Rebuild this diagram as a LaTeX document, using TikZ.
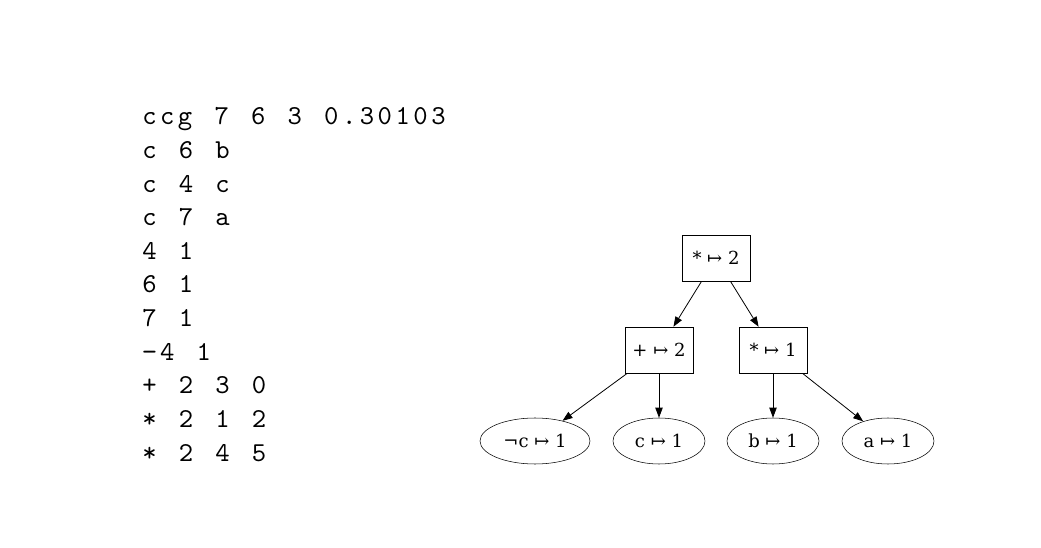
\documentclass[tikz,border=0pt]{standalone}
\usepackage{fontspec}
\setmainfont{DejaVu Serif}
\newfontfamily\codefont[LetterSpace=12.8,WordSpace=1.244]{lmmono10-regular.otf}
\usetikzlibrary{arrows.meta,calc,positioning,shapes.geometric}

\tikzset{
    codeline/.style={anchor=base west, inner sep=0pt, font=\codefont\fontsize{20.5}{23}\selectfont},
    opbox/.style={draw, rectangle, minimum width=51pt, minimum height=34.5pt, inner sep=2pt, font=\fontsize{13.5}{15}\selectfont},
    leafnode/.style={draw, ellipse, minimum height=34.5pt, inner sep=1pt, font=\fontsize{13.5}{15}\selectfont},
    treeedge/.style={-{Triangle[length=7.5pt,width=5.5pt]}, semithick}
}

\begin{document}
\begin{tikzpicture}[x=0.75pt, y=-0.75pt]
        \useasboundingbox (0,0) rectangle (1041,548);

        % input listing
        \foreach \txt [count=\i from 0] in {ccg 7 6 3 0.30103, c 6 b, c 4 c, c 7 a, 4 1, 6 1, 7 1, −4 1, + 2 3 0, * 2 1 2, * 2 4 5} {
            \node[codeline] (line\i) at (142, 125 + 33.6*\i) {\txt};
        }

        % tree
        \node[opbox] (root) at (716, 258) {* ↦ 2};
        \node[opbox] (plus) at (659, 350) {+ ↦ 2};
        \node[opbox] (times) at (773, 350) {* ↦ 1};

        \node[leafnode, minimum width=82.5pt] (notc) at (535, 441) {¬c ↦ 1};
        \node[leafnode, minimum width=69pt] (c) at (659, 441) {c ↦ 1};
        \node[leafnode, minimum width=69pt] (b) at (773, 441) {b ↦ 1};
        \node[leafnode, minimum width=69pt] (a) at (888, 441) {a ↦ 1};

        \draw [treeedge] (root) to (plus);
        \draw [treeedge] (root) to (times);
        \draw [treeedge] (plus) to (notc);
        \draw [treeedge] (plus) to (c);
        \draw [treeedge] (times) to (b);
        \draw [treeedge] (times) to (a);
    \end{tikzpicture}
\end{document}
